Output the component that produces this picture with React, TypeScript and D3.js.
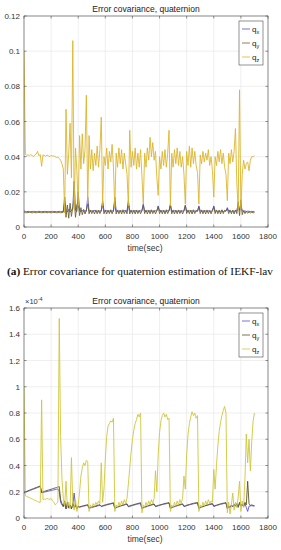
import React from "react";
import * as d3 from "d3";

// sample times, one reading every 10 s
const times = d3.range(0, 1710, 10);

const xTicks = [0, 200, 400, 600, 800, 1000, 1200, 1400, 1600, 1800];
const yTicksA = [0, 0.02, 0.04, 0.06, 0.08, 0.1, 0.12];
const yTicksB = [0, 0.2, 0.4, 0.6, 0.8, 1, 1.2, 1.4, 1.6];
const seriesNames = ["x", "y", "z"];

// (a) IEKF-lav
const qxA = [
  0.0092, 0.0088, 0.0087, 0.0089, 0.0088, 0.0087, 0.0088, 0.0089, 0.0088, 0.0087,
  0.0088, 0.0089, 0.0088, 0.0087, 0.0088, 0.0088, 0.0089, 0.0087, 0.0088, 0.0088,
  0.0087, 0.0089, 0.0088, 0.0088, 0.0087, 0.0088, 0.0089, 0.0088, 0.0087, 0.0090,
  0.0170, 0.0095, 0.0085, 0.0100, 0.0086, 0.0092, 0.0110, 0.0260, 0.0095, 0.0088,
  0.0200, 0.0092, 0.0087, 0.0095, 0.0088, 0.0093, 0.0089, 0.0170, 0.0091, 0.0088,
  0.0092, 0.0089, 0.0094, 0.0088, 0.0091, 0.0087, 0.0092, 0.0090, 0.0150, 0.0091,
  0.0088, 0.0093, 0.0089, 0.0091, 0.0088, 0.0092, 0.0089, 0.0170, 0.0090, 0.0088,
  0.0092, 0.0089, 0.0091, 0.0088, 0.0093, 0.0089, 0.0091, 0.0150, 0.0092, 0.0088,
  0.0091, 0.0089, 0.0093, 0.0088, 0.0091, 0.0089, 0.0092, 0.0090, 0.0130, 0.0091,
  0.0088, 0.0092, 0.0089, 0.0093, 0.0088, 0.0091, 0.0089, 0.0092, 0.0090, 0.0120,
  0.0091, 0.0088, 0.0092, 0.0089, 0.0091, 0.0088, 0.0093, 0.0090, 0.0130, 0.0090,
  0.0088, 0.0092, 0.0089, 0.0091, 0.0088, 0.0092, 0.0089, 0.0091, 0.0090, 0.0120,
  0.0091, 0.0088, 0.0092, 0.0089, 0.0093, 0.0088, 0.0091, 0.0089, 0.0090, 0.0120,
  0.0091, 0.0088, 0.0092, 0.0089, 0.0091, 0.0088, 0.0092, 0.0089, 0.0090, 0.0091,
  0.0120, 0.0089, 0.0092, 0.0088, 0.0091, 0.0089, 0.0093, 0.0088, 0.0091, 0.0090,
  0.0110, 0.0089, 0.0092, 0.0088, 0.0091, 0.0089, 0.0092, 0.0090, 0.0130, 0.0095,
  0.0120, 0.0092, 0.0089, 0.0091, 0.0088, 0.0090, 0.0089, 0.0088, 0.0089, 0.0088,
  0.0088,
];
const qyA = [
  0.0085, 0.0082, 0.0081, 0.0082, 0.0083, 0.0082, 0.0081, 0.0082, 0.0082, 0.0081,
  0.0082, 0.0083, 0.0082, 0.0081, 0.0082, 0.0082, 0.0083, 0.0081, 0.0082, 0.0082,
  0.0081, 0.0082, 0.0083, 0.0082, 0.0081, 0.0082, 0.0082, 0.0081, 0.0082, 0.0084,
  0.0140, 0.0055, 0.0125, 0.0050, 0.0135, 0.0060, 0.0115, 0.0155, 0.0055, 0.0125,
  0.0145, 0.0065, 0.0110, 0.0070, 0.0100, 0.0074, 0.0096, 0.0135, 0.0075, 0.0097,
  0.0076, 0.0095, 0.0074, 0.0097, 0.0075, 0.0096, 0.0076, 0.0094, 0.0135, 0.0075,
  0.0097, 0.0074, 0.0096, 0.0076, 0.0098, 0.0075, 0.0095, 0.0145, 0.0074, 0.0097,
  0.0075, 0.0096, 0.0074, 0.0098, 0.0076, 0.0095, 0.0075, 0.0135, 0.0074, 0.0097,
  0.0075, 0.0096, 0.0074, 0.0097, 0.0076, 0.0096, 0.0075, 0.0094, 0.0125, 0.0076,
  0.0097, 0.0074, 0.0096, 0.0075, 0.0098, 0.0076, 0.0095, 0.0074, 0.0094, 0.0115,
  0.0076, 0.0097, 0.0075, 0.0096, 0.0074, 0.0098, 0.0076, 0.0095, 0.0125, 0.0075,
  0.0097, 0.0074, 0.0096, 0.0075, 0.0097, 0.0076, 0.0095, 0.0074, 0.0094, 0.0125,
  0.0076, 0.0097, 0.0075, 0.0096, 0.0074, 0.0098, 0.0076, 0.0095, 0.0090, 0.0115,
  0.0076, 0.0097, 0.0075, 0.0096, 0.0074, 0.0097, 0.0076, 0.0095, 0.0075, 0.0094,
  0.0115, 0.0076, 0.0097, 0.0075, 0.0096, 0.0074, 0.0098, 0.0076, 0.0095, 0.0090,
  0.0105, 0.0076, 0.0097, 0.0075, 0.0096, 0.0074, 0.0097, 0.0076, 0.0145, 0.0065,
  0.0155, 0.0070, 0.0094, 0.0076, 0.0090, 0.0078, 0.0086, 0.0080, 0.0083, 0.0081,
  0.0082,
];
const qzA = [
  0.1000, 0.0412, 0.0408, 0.0410, 0.0405, 0.0412, 0.0406, 0.0400, 0.0410, 0.0415,
  0.0430, 0.0405, 0.0412, 0.0345, 0.0410, 0.0407, 0.0402, 0.0410, 0.0405, 0.0400,
  0.0408, 0.0403, 0.0405, 0.0400, 0.0395, 0.0398, 0.0390, 0.0380, 0.0360, 0.0330,
  0.0080, 0.0670, 0.0300, 0.0420, 0.0590, 0.0280, 0.1060, 0.0100, 0.0450, 0.0320,
  0.0120, 0.0520, 0.0330, 0.0530, 0.0360, 0.0440, 0.0750, 0.0130, 0.0520, 0.0330,
  0.0440, 0.0320, 0.0420, 0.0350, 0.0460, 0.0340, 0.0440, 0.0625, 0.0120, 0.0400,
  0.0350, 0.0450, 0.0330, 0.0430, 0.0370, 0.0470, 0.0340, 0.0110, 0.0420, 0.0340,
  0.0450, 0.0360, 0.0440, 0.0330, 0.0420, 0.0360, 0.0300, 0.0120, 0.0550, 0.0340,
  0.0430, 0.0350, 0.0450, 0.0330, 0.0420, 0.0340, 0.0440, 0.0290, 0.0130, 0.0420,
  0.0340, 0.0450, 0.0380, 0.0510, 0.0400, 0.0480, 0.0380, 0.0430, 0.0280, 0.0180,
  0.0400, 0.0330, 0.0430, 0.0350, 0.0440, 0.0340, 0.0420, 0.0550, 0.0120, 0.0420,
  0.0340, 0.0440, 0.0360, 0.0450, 0.0350, 0.0430, 0.0340, 0.0400, 0.0300, 0.0130,
  0.0430, 0.0350, 0.0460, 0.0340, 0.0450, 0.0360, 0.0430, 0.0350, 0.0310, 0.0130,
  0.0410, 0.0360, 0.0430, 0.0370, 0.0420, 0.0380, 0.0440, 0.0350, 0.0400, 0.0320,
  0.0170, 0.0400, 0.0350, 0.0430, 0.0370, 0.0440, 0.0360, 0.0420, 0.0340, 0.0300,
  0.0150, 0.0420, 0.0360, 0.0440, 0.0370, 0.0430, 0.0560, 0.0250, 0.0100, 0.0780,
  0.0100, 0.0300, 0.0380, 0.0330, 0.0360, 0.0370, 0.0320, 0.0380, 0.0400, 0.0400,
  0.0405,
];

// (b) values in units of 1e-4
const qxB = [
  0.190, 0.195, 0.199, 0.204, 0.208, 0.212, 0.216, 0.220, 0.224, 0.228,
  0.232, 0.236, 0.240, 0.192, 0.194, 0.197, 0.200, 0.202, 0.205, 0.207,
  0.210, 0.212, 0.214, 0.217, 0.219, 0.222, 0.200, 0.120, 0.100, 0.085,
  0.110, 0.070, 0.105, 0.075, 0.095, 0.070, 0.100, 0.190, 0.090, 0.072,
  0.086, 0.082, 0.085, 0.088, 0.090, 0.093, 0.095, 0.098, 0.072, 0.077,
  0.080, 0.083, 0.086, 0.088, 0.091, 0.094, 0.097, 0.086, 0.090, 0.093,
  0.096, 0.099, 0.102, 0.104, 0.107, 0.110, 0.112, 0.072, 0.078, 0.082,
  0.086, 0.090, 0.093, 0.096, 0.099, 0.102, 0.104, 0.085, 0.088, 0.092,
  0.095, 0.098, 0.101, 0.104, 0.106, 0.109, 0.111, 0.070, 0.077, 0.081,
  0.085, 0.089, 0.092, 0.095, 0.098, 0.101, 0.103, 0.086, 0.089, 0.093,
  0.096, 0.099, 0.102, 0.104, 0.107, 0.109, 0.111, 0.113, 0.072, 0.078,
  0.082, 0.086, 0.090, 0.093, 0.096, 0.099, 0.102, 0.104, 0.087, 0.090,
  0.094, 0.097, 0.100, 0.103, 0.106, 0.108, 0.110, 0.112, 0.114, 0.072,
  0.078, 0.082, 0.086, 0.090, 0.093, 0.096, 0.099, 0.102, 0.104, 0.106,
  0.088, 0.091, 0.095, 0.098, 0.101, 0.104, 0.107, 0.109, 0.111, 0.113,
  0.070, 0.085, 0.080, 0.095, 0.085, 0.100, 0.090, 0.105, 0.080, 0.110,
  0.090, 0.100, 0.085, 0.110, 0.080, 0.050, 0.090, 0.092, 0.094, 0.092,
  0.090,
];
const qyB = [
  0.195, 0.200, 0.203, 0.208, 0.212, 0.216, 0.220, 0.224, 0.228, 0.232,
  0.236, 0.240, 0.244, 0.196, 0.199, 0.203, 0.206, 0.210, 0.213, 0.216,
  0.219, 0.223, 0.226, 0.229, 0.232, 0.236, 0.240, 0.140, 0.110, 0.090,
  0.130, 0.070, 0.120, 0.080, 0.100, 0.070, 0.110, 0.080, 0.100, 0.070,
  0.090, 0.085, 0.088, 0.091, 0.094, 0.096, 0.099, 0.101, 0.075, 0.080,
  0.083, 0.086, 0.089, 0.092, 0.095, 0.098, 0.102, 0.090, 0.094, 0.097,
  0.100, 0.103, 0.106, 0.108, 0.111, 0.113, 0.116, 0.075, 0.081, 0.085,
  0.089, 0.093, 0.096, 0.100, 0.103, 0.106, 0.108, 0.088, 0.092, 0.096,
  0.099, 0.102, 0.105, 0.108, 0.111, 0.113, 0.116, 0.073, 0.080, 0.084,
  0.088, 0.092, 0.095, 0.099, 0.102, 0.105, 0.107, 0.089, 0.093, 0.096,
  0.099, 0.102, 0.105, 0.108, 0.111, 0.113, 0.115, 0.117, 0.075, 0.081,
  0.085, 0.089, 0.093, 0.096, 0.100, 0.103, 0.106, 0.108, 0.090, 0.093,
  0.097, 0.100, 0.103, 0.106, 0.109, 0.112, 0.114, 0.116, 0.118, 0.075,
  0.081, 0.085, 0.089, 0.093, 0.096, 0.100, 0.103, 0.106, 0.108, 0.110,
  0.091, 0.095, 0.098, 0.101, 0.105, 0.108, 0.110, 0.113, 0.115, 0.117,
  0.074, 0.090, 0.080, 0.100, 0.088, 0.105, 0.092, 0.110, 0.085, 0.120,
  0.095, 0.105, 0.090, 0.120, 0.100, 0.280, 0.110, 0.095, 0.100, 0.096,
  0.094,
];
const qzB = [
  1.000, 0.170, 0.165, 0.160, 0.155, 0.150, 0.145, 0.140, 0.135, 0.130,
  0.125, 0.120, 0.120, 0.900, 0.140, 0.145, 0.140, 0.150, 0.145, 0.140,
  0.150, 0.130, 0.120, 0.100, 0.110, 0.120, 1.520, 0.620, 0.300, 0.150,
  0.090, 0.280, 0.080, 0.120, 0.070, 0.460, 0.100, 0.060, 0.140, 0.050,
  0.100, 0.200, 0.320, 0.380, 0.420, 0.400, 0.440, 0.430, 0.050, 0.100,
  0.080, 0.110, 0.090, 0.120, 0.100, 0.130, 0.110, 0.420, 0.120, 0.220,
  0.450, 0.620, 0.700, 0.720, 0.740, 0.730, 0.760, 0.050, 0.100, 0.080,
  0.120, 0.090, 0.130, 0.100, 0.140, 0.110, 0.150, 0.260, 0.380, 0.500,
  0.600, 0.670, 0.720, 0.750, 0.790, 0.770, 0.800, 0.040, 0.100, 0.080,
  0.120, 0.090, 0.130, 0.100, 0.140, 0.110, 0.150, 0.360, 0.200, 0.480,
  0.650, 0.740, 0.780, 0.800, 0.770, 0.790, 0.750, 0.760, 0.050, 0.100,
  0.080, 0.120, 0.090, 0.130, 0.100, 0.140, 0.110, 0.150, 0.320, 0.220,
  0.480, 0.640, 0.720, 0.770, 0.810, 0.780, 0.800, 0.760, 0.780, 0.050,
  0.100, 0.080, 0.120, 0.090, 0.130, 0.100, 0.140, 0.110, 0.130, 0.120,
  0.370, 0.220, 0.400, 0.550, 0.660, 0.730, 0.780, 0.820, 0.850, 0.800,
  0.040, 0.120, 0.030, 0.100, 0.190, 0.060, 0.120, 0.080, 0.160, 0.280,
  0.050, 0.130, 0.080, 0.300, 0.640, 0.420, 0.600, 0.360, 0.580, 0.740,
  0.800,
];

const FONT = "'Liberation Sans', Arial, sans-serif";
const X0 = 24;
const X1 = 268;

interface PanelProps {
  top: number;
  bottom: number;
  yTicks: number[];
  yMax: number;
  series: number[][];
  colors: string[];
  legendTop: number;
  exponent?: boolean;
  id: string;
}

const Panel = ({ top, bottom, yTicks, yMax, series, colors, legendTop, exponent, id }: PanelProps) => {
  const x = d3.scaleLinear().domain([0, 1800]).range([X0, X1]);
  const y = d3.scaleLinear().domain([0, yMax]).range([bottom, top]);
  const line = d3
    .line<number>()
    .x((_, i) => x(times[i]))
    .y((v) => y(v));
  const fmt = (v: number) => String(+v.toFixed(2));

  return (
    <g>
      <defs>
        <clipPath id={id}>
          <rect x={X0} y={top} width={X1 - X0} height={bottom - top} />
        </clipPath>
      </defs>
      {/* grid */}
      {xTicks.map((t) => (
        <line key={`gx${t}`} x1={x(t)} x2={x(t)} y1={top} y2={bottom} stroke="#e4e4e4" strokeWidth={0.6} />
      ))}
      {yTicks.map((t) => (
        <line key={`gy${t}`} x1={X0} x2={X1} y1={y(t)} y2={y(t)} stroke="#e4e4e4" strokeWidth={0.6} />
      ))}

      <g clipPath={`url(#${id})`}>
        {series.map((s, k) => (
          <path key={k} d={line(s) ?? ""} fill="none" stroke={colors[k]} strokeWidth={0.9} strokeLinejoin="round" />
        ))}
      </g>

      {/* box and inward ticks on all sides */}
      <rect x={X0} y={top} width={X1 - X0} height={bottom - top} fill="none" stroke="#4a4a4a" strokeWidth={0.6} />
      {xTicks.map((t) => (
        <g key={`tx${t}`}>
          <line x1={x(t)} x2={x(t)} y1={bottom} y2={bottom - 2.5} stroke="#4a4a4a" strokeWidth={0.6} />
          <line x1={x(t)} x2={x(t)} y1={top} y2={top + 2.5} stroke="#4a4a4a" strokeWidth={0.6} />
          <text x={x(t)} y={bottom + 12} textAnchor="middle" fontSize={8} fill="#333" fontFamily={FONT}>
            {t}
          </text>
        </g>
      ))}
      {yTicks.map((t) => (
        <g key={`ty${t}`}>
          <line x1={X0} x2={X0 + 2.5} y1={y(t)} y2={y(t)} stroke="#4a4a4a" strokeWidth={0.6} />
          <line x1={X1} x2={X1 - 2.5} y1={y(t)} y2={y(t)} stroke="#4a4a4a" strokeWidth={0.6} />
          <text x={20} y={y(t) + 3} textAnchor="end" fontSize={8} fill="#333" fontFamily={FONT}>
            {fmt(t)}
          </text>
        </g>
      ))}

      <text x={146} y={top - 4} textAnchor="middle" fontSize={8.5} fill="#222" fontFamily={FONT}>
        Error covariance, quaternion
      </text>
      {exponent && (
        <text x={25} y={top - 4} fontSize={7.5} fill="#333" fontFamily={FONT}>
          ×10
          <tspan fontSize={5.5} dy={-3}>
            -4
          </tspan>
        </text>
      )}
      <text x={145} y={bottom + 24} textAnchor="middle" fontSize={8.5} fill="#333" fontFamily={FONT}>
        time(sec)
      </text>

      {/* legend */}
      <rect x={239} y={legendTop} width={24} height={44} fill="#fff" stroke="#4a4a4a" strokeWidth={0.6} />
      {seriesNames.map((n, k) => (
        <g key={n}>
          <line x1={242} x2={250} y1={legendTop + 8 + k * 14} y2={legendTop + 8 + k * 14} stroke={colors[k]} strokeWidth={0.8} />
          <text x={252} y={legendTop + 10.5 + k * 14} fontSize={8} fill="#222" fontFamily={FONT}>
            q
            <tspan fontSize={5.5} dy={2}>
              {n}
            </tspan>
          </text>
        </g>
      ))}
    </g>
  );
};

export default function App() {
  return (
    <svg
      width={281}
      height={550}
      style={{ position: "absolute", left: 0, top: 0, background: "#fff" }}
    >
      <rect x={0} y={0} width={281} height={550} fill="#fff" />
      <Panel
        id="clipA"
        top={16}
        bottom={227}
        yTicks={yTicksA}
        yMax={0.12}
        series={[qxA, qyA, qzA]}
        colors={["#4b4bd0", "#6e6230", "#dcb52c"]}
        legendTop={21}
      />
      <text
        x={7}
        y={275}
        fontSize={11}
        textLength={266}
        lengthAdjust="spacingAndGlyphs"
        fill="#111"
        fontFamily="'Liberation Serif', 'Times New Roman', serif"
      >
        <tspan fontWeight="bold">(a)</tspan> Error covariance for quaternion estimation of IEKF-lav
      </text>
      <Panel
        id="clipB"
        top={308}
        bottom={518}
        yTicks={yTicksB}
        yMax={1.6}
        series={[qxB, qyB, qzB]}
        colors={["#5a4fd8", "#5c5228", "#cfc63a"]}
        legendTop={313}
        exponent
      />
    </svg>
  );
}
